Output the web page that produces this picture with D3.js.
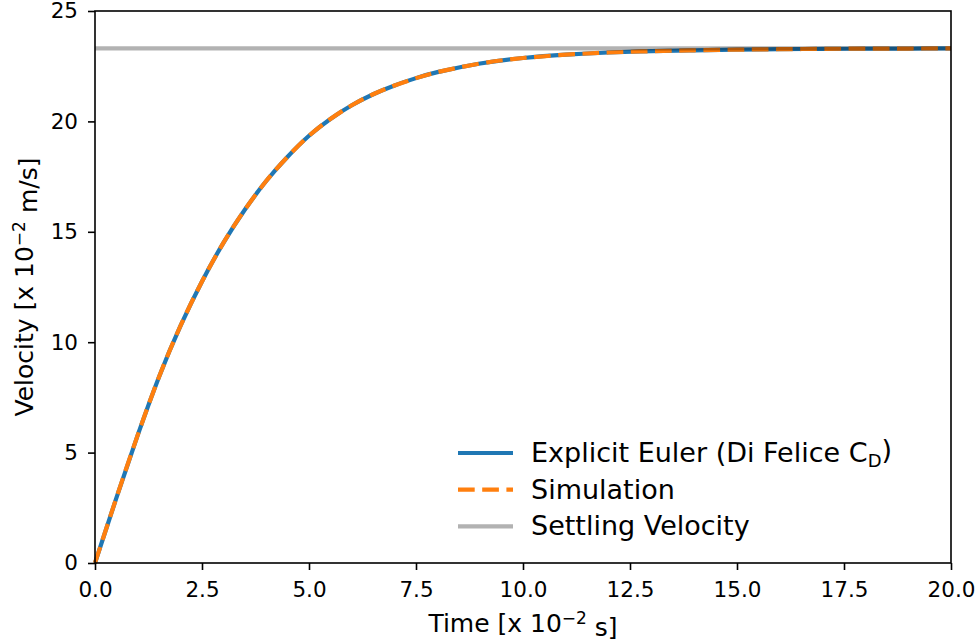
<!DOCTYPE html>
<html lang="en">
  <head>
    <meta charset="utf-8">
    <title>Velocity vs time</title>
    <script src="https://cdn.jsdelivr.net/npm/d3@7"></script>
    <style>
      body { margin: 0; background: #fff; }
      svg { display: block; font-family: "DejaVu Sans", sans-serif; }
    </style>
  </head>
  <body>
    <svg></svg>
    <script>
    // data (time x 10^-2 s, velocity x 10^-2 m/s)
    var time = [0, 0.5, 1, 1.5, 2, 2.5, 3, 3.5, 4, 4.5, 5, 5.5, 6, 6.5, 7, 7.5, 8, 9, 10, 11, 12, 13, 14, 15, 16, 17, 18, 19, 20];
    var euler = [0, 2.95, 5.8, 8.45, 10.75, 12.75, 14.5, 16.0, 17.3, 18.4, 19.35, 20.11, 20.73, 21.23, 21.63, 21.96, 22.23, 22.62, 22.87, 23.02, 23.12, 23.18, 23.22, 23.25, 23.27, 23.285, 23.295, 23.3, 23.31];
    var simulation = [0, 2.95, 5.8, 8.45, 10.75, 12.75, 14.5, 16.0, 17.3, 18.4, 19.35, 20.11, 20.73, 21.23, 21.63, 21.96, 22.23, 22.62, 22.87, 23.02, 23.12, 23.18, 23.22, 23.25, 23.27, 23.285, 23.295, 23.3, 23.31];
    var settling = 23.31;
    var xTicks = [0, 2.5, 5, 7.5, 10, 12.5, 15, 17.5, 20];
    var yTicks = [0, 5, 10, 15, 20, 25];

    var width = 980, height = 641;
    var margin = {left: 95, right: 29, top: 11, bottom: 78};

    var svg = d3.select("svg").attr("width", width).attr("height", height);

    var x = d3.scaleLinear().domain([0, 20]).range([margin.left, width - margin.right]);
    var y = d3.scaleLinear().domain([0, 25]).range([height - margin.bottom, margin.top]);

    var line = function(vals){
      return d3.line()
        .x(function(d, i){ return x(time[i]); })
        .y(function(d){ return y(d); })
        .curve(d3.curveNatural)(vals);
    };

    // series
    var g = svg.append("g");
    g.append("path").attr("d", line(euler))
      .attr("fill", "none").attr("stroke", "#1f77b4").attr("stroke-width", 4.2);
    g.append("path").attr("d", line(simulation))
      .attr("fill", "none").attr("stroke", "#ff7f0e").attr("stroke-width", 4.2)
      .attr("stroke-dasharray", "16.7,7.5");
    g.append("line")
      .attr("x1", x(0)).attr("x2", x(20))
      .attr("y1", y(settling)).attr("y2", y(settling))
      .attr("stroke", "#000").attr("stroke-opacity", 0.3).attr("stroke-width", 4.2);

    // axes
    svg.append("g")
      .attr("transform", "translate(0," + y(0) + ")")
      .call(d3.axisBottom(x).tickValues(xTicks).tickFormat(d3.format(".1f")).tickSizeOuter(0).tickSize(7).tickPadding(12));
    svg.append("g")
      .attr("transform", "translate(" + x(0) + ",0)")
      .call(d3.axisLeft(y).tickValues(yTicks).tickFormat(d3.format("d")).tickSizeOuter(0).tickSize(7).tickPadding(10));
    svg.selectAll(".domain").remove();
    svg.selectAll(".tick line").attr("stroke", "#000").attr("stroke-width", 1.6);
    svg.selectAll(".tick text").attr("fill", "#000").style("font-size", "21.5px").style("font-family", "DejaVu Sans");

    // frame
    svg.append("rect")
      .attr("x", x(0)).attr("y", y(25))
      .attr("width", x(20) - x(0)).attr("height", y(0) - y(25))
      .attr("fill", "none").attr("stroke", "#000").attr("stroke-width", 1.6);

    // axis labels
    var xl = svg.append("text")
      .attr("x", (x(0) + x(20)) / 2).attr("y", 632)
      .attr("text-anchor", "middle").style("font-size", "25px");
    xl.append("tspan").text("Time [x 10");
    xl.append("tspan").attr("dy", "-0.45em").style("font-size", "17px").text("\u22122");
    xl.append("tspan").attr("dy", "0.45em").text(" s]");

    var yl = svg.append("text")
      .attr("transform", "translate(33," + (y(0) + y(25)) / 2 + ") rotate(-90)")
      .attr("text-anchor", "middle").style("font-size", "25px");
    yl.append("tspan").text("Velocity [x 10");
    yl.append("tspan").attr("dy", "-0.45em").style("font-size", "17px").text("\u22122");
    yl.append("tspan").attr("dy", "0.45em").text(" m/s]");

    // legend
    var legend = svg.append("g");
    var items = [
      {color: "#1f77b4", dash: null},
      {color: "#ff7f0e", dash: "16.7,7.5"},
      {color: "#b2b2b2", dash: null}
    ];
    items.forEach(function(d, i){
      var ly = 453 + i * 36.7;
      legend.append("line")
        .attr("x1", 458).attr("x2", 513).attr("y1", ly).attr("y2", ly)
        .attr("stroke", d.color).attr("stroke-width", 4.2)
        .attr("stroke-dasharray", d.dash);
    });
    var t0 = legend.append("text").attr("x", 531).attr("y", 462).style("font-size", "27px");
    t0.append("tspan").text("Explicit Euler (Di Felice C");
    t0.append("tspan").attr("dy", "0.28em").style("font-size", "18px").text("D");
    t0.append("tspan").attr("dy", "-0.28em").text(")");
    legend.append("text").attr("x", 531).attr("y", 498.7).style("font-size", "27px").text("Simulation");
    legend.append("text").attr("x", 531).attr("y", 535.4).style("font-size", "27px").text("Settling Velocity");
    </script>
  </body>
</html>
